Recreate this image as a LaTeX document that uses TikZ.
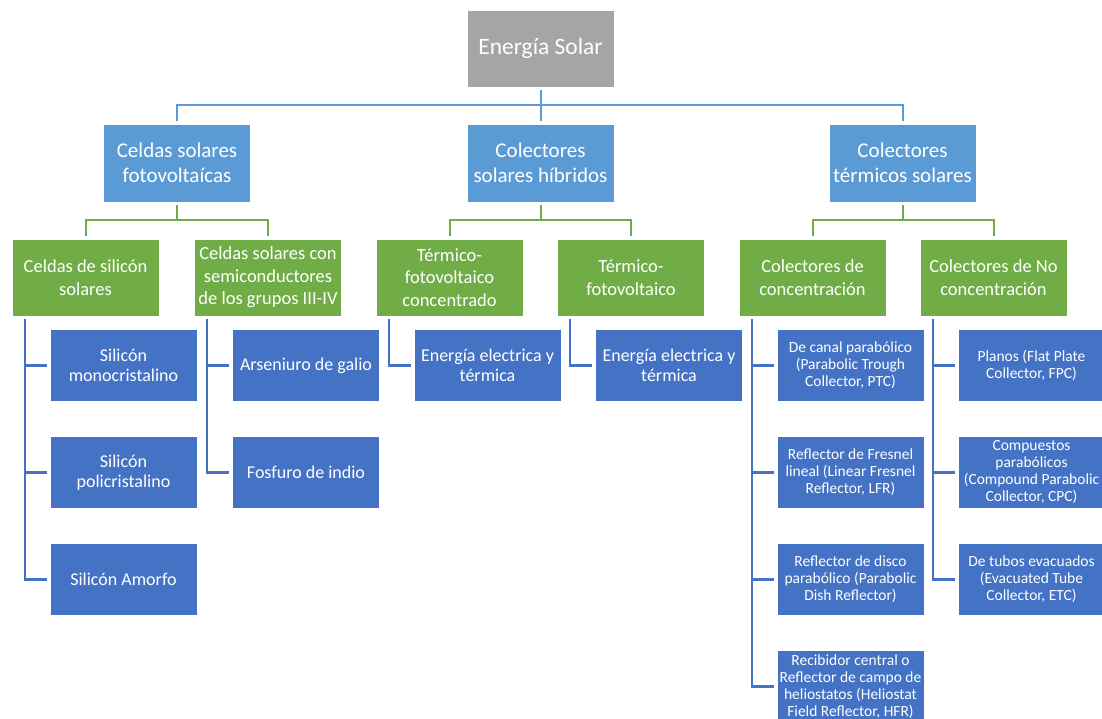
\documentclass[tikz,border=0pt]{standalone}
\usepackage{fontspec}
\setmainfont{Carlito}
\usepackage{xcolor}
\definecolor{solgray}{HTML}{A5A5A5}
\definecolor{solsky}{HTML}{5B9BD5}
\definecolor{solgreen}{HTML}{70AD47}
\definecolor{solblue}{HTML}{4472C4}
\usepackage{tikz}
\usetikzlibrary{calc}

\begin{document}
\begin{tikzpicture}[
  x=1pt, y=-1pt,
  box/.style={rectangle, draw=white, line width=0.6pt, text=white, align=center,
              minimum width=147pt, inner sep=1pt},
  rootbox/.style={box, fill=solgray, minimum height=77pt, font={\fontsize{23.5}{28}\selectfont}},
  famb/.style={box, fill=solsky, minimum height=78pt, font={\fontsize{21}{25}\selectfont}},
  kind/.style={box, fill=solgreen, minimum height=77pt, font={\fontsize{18.5}{22.5}\selectfont}},
  leaf/.style={box, fill=solblue, minimum height=72pt, font={\fontsize{18}{20}\selectfont}},
  sleaf/.style={leaf, font={\fontsize{15.5}{17}\selectfont}},
  skyln/.style={line width=2pt, solsky},
  grnln/.style={line width=2pt, solgreen},
  blueln/.style={line width=2.4pt, solblue},
]
\useasboundingbox (0,0) rectangle (1102,719);

% ---------- root and the three families
\node[rootbox] (root) at (540.5,48.5) {Energía Solar};
\node[famb] (fv)  at (177,163)   {Celdas solares\\fotovoltaícas};
\node[famb] (hib) at (540.5,163) {Colectores\\solares híbridos};
\node[famb] (ter) at (902.5,163) {Colectores\\térmicos solares};

\draw[skyln] ([yshift=-3pt]root.south) -- ([yshift=3pt]hib.north);
\draw[skyln] ([yshift=3pt]fv.north) |- ([yshift=19pt]hib.north) -| ([yshift=3pt]ter.north);

% ---------- second level
\node[kind] (sil)   at (85.5,277.5)  {Celdas de silicón\\solares};
\node[kind] (sem)   at (268,277.5)   {Celdas solares con\\semiconductores\\de los grupos III-IV};
\node[kind] (tfc)   at (449.5,277.5) {Térmico-\\fotovoltaico\\concentrado};
\node[kind] (tfv)   at (631,277.5)   {Térmico-\\fotovoltaico};
\node[kind] (con)   at (812.5,277.5) {Colectores de\\concentración};
\node[kind] (nocon) at (993.5,277.5) {Colectores de No\\concentración};

\foreach \up/\a/\b in {fv/sil/sem, hib/tfc/tfv, ter/con/nocon} {
  \draw[grnln] ([yshift=-3pt]\up.south) -- ([yshift=-18pt]\up.south);
  \draw[grnln] ([yshift=3pt]\a.north) |- ([yshift=-18pt]\up.south) -| ([yshift=3pt]\b.north);
}

% ---------- leaves, hanging off the left side of each box
\foreach \up/\k/\sty/\txt in {
    sil/1/leaf/{Silicón\\monocristalino},
    sil/2/leaf/{Silicón\\policristalino},
    sil/3/leaf/{Silicón Amorfo},
    sem/1/leaf/{Arseniuro de galio},
    sem/2/leaf/{Fosfuro de indio},
    tfc/1/leaf/{Energía electrica y\\térmica},
    tfv/1/leaf/{Energía electrica y\\térmica},
    con/1/sleaf/{De canal parabólico\\(Parabolic Trough\\Collector, PTC)},
    con/2/sleaf/{Reflector de Fresnel\\lineal (Linear Fresnel\\Reflector, LFR)},
    con/3/sleaf/{Reflector de disco\\parabólico (Parabolic\\Dish Reflector)},
    con/4/sleaf/{Recibidor central o\\Reflector de campo de\\heliostatos (Heliostat\\Field Reflector, HFR)},
    nocon/1/sleaf/{Planos (Flat Plate\\Collector, FPC)},
    nocon/2/sleaf/{Compuestos\\parabólicos\\(Compound Parabolic\\Collector, CPC)},
    nocon/3/sleaf/{De tubos evacuados\\(Evacuated Tube\\Collector, ETC)}} {
  \node[\sty] (\up-\k) at ($(\up.center)+(38,{88+107*(\k-1)})$) {\txt};
  \draw[blueln] ([xshift=13pt,yshift=-3pt]\up.south west) |- ([xshift=-3pt]\up-\k.west);
}
\end{tikzpicture}
\end{document}
